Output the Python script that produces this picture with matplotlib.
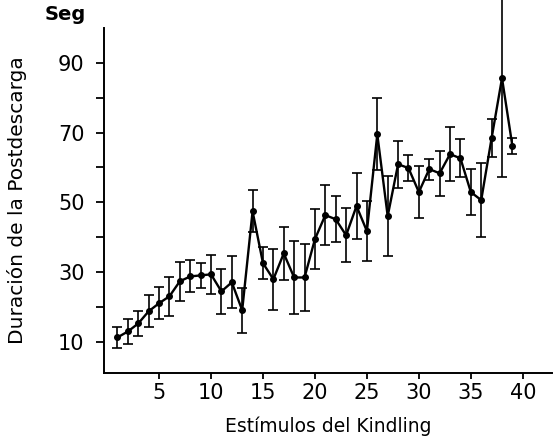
import numpy as np
import matplotlib
matplotlib.use('Agg')
import matplotlib.pyplot as plt

# estimulos del kindling (1..39)
estimulos = np.arange(1, 40)
duracion = [11.2, 12.9, 15.2, 18.7, 21.0, 23.0, 27.3, 28.7, 29.0, 29.3,
            24.4, 27.0, 19.0, 47.4, 32.5, 27.9, 35.3, 28.4, 28.4, 39.4,
            46.3, 45.1, 40.5, 48.9, 41.7, 69.5, 46.0, 60.9, 59.8, 52.9,
            59.5, 58.3, 63.8, 62.6, 52.9, 50.6, 68.4, 85.6, 66.1]
error = [3.0, 3.5, 3.5, 4.6, 4.6, 5.6, 5.6, 4.6, 3.5, 5.5,
         6.5, 7.5, 6.5, 6.0, 4.6, 8.7, 7.7, 10.4, 9.5, 8.6,
         8.5, 6.6, 7.8, 9.5, 8.7, 10.4, 11.5, 6.7, 3.8, 7.5,
         3.0, 6.5, 7.8, 5.5, 6.7, 10.7, 5.5, 28.5, 2.2]
xticks = [5, 10, 15, 20, 25, 30, 35, 40]
yticks = [10, 30, 50, 70, 90]
yminor = [20, 40, 60, 80]

fig = plt.figure(figsize=(5.53, 4.44), dpi=100)
ax = fig.add_axes([0.188, 0.16, 0.81, 0.777])

ax.errorbar(estimulos, duracion, yerr=error, color='black', lw=1.7,
            marker='o', ms=4, elinewidth=1.2, capsize=3.5, capthick=1.2,
            clip_on=False)

ax.set_xlim(-0.3, 42.8)
ax.set_ylim(1, 100)
ax.spines['top'].set_visible(False)
ax.spines['right'].set_visible(False)
ax.spines['left'].set_linewidth(1.4)
ax.spines['bottom'].set_linewidth(1.4)

ax.set_xticks(xticks)
ax.set_yticks(yticks)
ax.set_yticks(yminor, minor=True)
ax.tick_params(axis='y', which='both', direction='out', length=6,
               width=1.3, labelsize=15, pad=8)
ax.tick_params(axis='x', which='both', direction='out', length=4,
               width=1.3, labelsize=15, pad=3)

ax.set_xlabel('Estímulos del Kindling', fontsize=13.5, labelpad=10)
ax.set_ylabel('Duración de la Postdescarga', fontsize=14.5, labelpad=22)
fig.text(0.08, 0.968, 'Seg', fontsize=14, fontweight='semibold', ha='left', va='center')

fig.savefig('out.png', dpi=100)
